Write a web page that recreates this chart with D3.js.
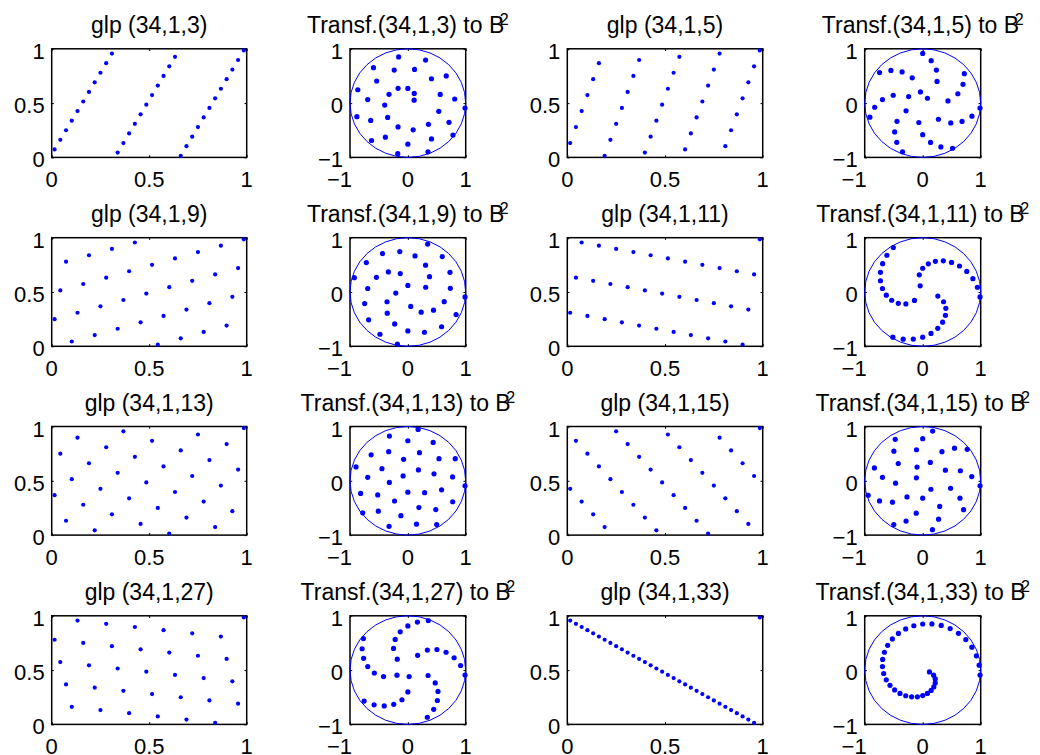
<!DOCTYPE html>
<html>
<head>
<meta charset="utf-8">
<script src="https://cdn.jsdelivr.net/npm/d3@7/dist/d3.min.js"></script>
<style>
  html, body { margin: 0; padding: 0; background: #ffffff; }
  svg { display: block; }
  text { font-family: "Liberation Sans", Arial, Helvetica, sans-serif; fill: #000; }
</style>
</head>
<body>
<script>
// Good lattice point sets glp(n, 1, h) with n = 34, and their images in the unit disk B^2.
const latticeN = 34;
const genH = [3, 5, 9, 11, 13, 15, 27, 33];

// first coordinate index k (generator 1)
const rowK = [1,2,3,4,5,6,7,8,9,10,11,12,13,14,15,16,17,18,19,20,21,22,23,24,25,26,27,28,29,30,31,32,33,34];

// second coordinate index k*h mod n (0 written as n), one list per generator h
const colH3  = [3,6,9,12,15,18,21,24,27,30,33,2,5,8,11,14,17,20,23,26,29,32,1,4,7,10,13,16,19,22,25,28,31,34];
const colH5  = [5,10,15,20,25,30,1,6,11,16,21,26,31,2,7,12,17,22,27,32,3,8,13,18,23,28,33,4,9,14,19,24,29,34];
const colH9  = [9,18,27,2,11,20,29,4,13,22,31,6,15,24,33,8,17,26,1,10,19,28,3,12,21,30,5,14,23,32,7,16,25,34];
const colH11 = [11,22,33,10,21,32,9,20,31,8,19,30,7,18,29,6,17,28,5,16,27,4,15,26,3,14,25,2,13,24,1,12,23,34];
const colH13 = [13,26,5,18,31,10,23,2,15,28,7,20,33,12,25,4,17,30,9,22,1,14,27,6,19,32,11,24,3,16,29,8,21,34];
const colH15 = [15,30,11,26,7,22,3,18,33,14,29,10,25,6,21,2,17,32,13,28,9,24,5,20,1,16,31,12,27,8,23,4,19,34];
const colH27 = [27,20,13,6,33,26,19,12,5,32,25,18,11,4,31,24,17,10,3,30,23,16,9,2,29,22,15,8,1,28,21,14,7,34];
const colH33 = [33,32,31,30,29,28,27,26,25,24,23,22,21,20,19,18,17,16,15,14,13,12,11,10,9,8,7,6,5,4,3,2,1,34];
const colLists = [colH3, colH5, colH9, colH11, colH13, colH15, colH27, colH33];

// tick labels
const cubeTicks = [0, 0.5, 1];
const cubeTickLabels = ["0", "0.5", "1"];
const diskTicks = [-1, 0, 1];
const diskTickLabels = ["\u22121", "0", "1"];

const W = 1040, H = 755;
const svg = d3.select("body").append("svg").attr("width", W).attr("height", H);

// panel frame geometry (4 x 4 subplots)
const colLeft  = [51.7, 350, 567.3, 864.7];
const colWidth = [195, 115.7, 195.4, 116];
const rowTop   = [48.8, 237.7, 426.5, 615.8];
const rowHeight = 108.6;

const tickFont = 22, titleFont = 23;
const blue = "#0000ff";

// centred lattice coordinate in [0,1]
const unit = v => (v - 0.5) / latticeN;

function frame(g, x, y, ticks) {
  const [x0, x1] = x.range();
  const [y0, y1] = y.range(); // y0 bottom, y1 top
  const tl = 2.2;
  // inward ticks on all four sides
  g.append("g").attr("transform", `translate(0,${y0})`)
    .call(d3.axisBottom(x).tickValues(ticks).tickSize(-tl).tickSizeOuter(0).tickFormat(""));
  g.append("g").attr("transform", `translate(0,${y1})`)
    .call(d3.axisTop(x).tickValues(ticks).tickSize(-tl).tickSizeOuter(0).tickFormat(""));
  g.append("g").attr("transform", `translate(${x0},0)`)
    .call(d3.axisLeft(y).tickValues(ticks).tickSize(-tl).tickSizeOuter(0).tickFormat(""));
  g.append("g").attr("transform", `translate(${x1},0)`)
    .call(d3.axisRight(y).tickValues(ticks).tickSize(-tl).tickSizeOuter(0).tickFormat(""));
  g.selectAll(".domain").remove();
  g.selectAll(".tick line").attr("stroke", "#000").attr("stroke-width", 1);
  g.append("rect")
    .attr("x", x0).attr("y", y1).attr("width", x1 - x0).attr("height", y0 - y1)
    .attr("fill", "none").attr("stroke", "#000").attr("stroke-width", 1.5);
}

function tickLabels(g, x, y, ticks, labels) {
  const [x0] = x.range();
  const [y0] = y.range();
  ticks.forEach((t, i) => {
    const neg = labels[i].startsWith("\u2212");
    // x-axis labels
    g.append("text")
      .attr("x", neg ? x(t) + 2 : x(t))
      .attr("y", y0 + 30)
      .attr("text-anchor", neg ? "end" : "middle")
      .attr("font-size", tickFont)
      .text(labels[i]);
    // y-axis labels
    g.append("text")
      .attr("x", x0 - 7)
      .attr("y", y(t) + 10)
      .attr("text-anchor", "end")
      .attr("font-size", tickFont)
      .text(labels[i]);
  });
}

genH.forEach((h, idx) => {
  const r = Math.floor(idx / 2);
  const c = (idx % 2) * 2;
  const cols = colLists[idx];
  const pts = rowK.map((k, i) => [unit(k), unit(cols[i])]);

  // ---- lattice set on [0,1]^2 ----
  {
    const g = svg.append("g");
    const left = colLeft[c], top = rowTop[r];
    const x = d3.scaleLinear().domain([0, 1]).range([left, left + colWidth[c]]);
    const y = d3.scaleLinear().domain([0, 1]).range([top + rowHeight, top]);
    frame(g, x, y, cubeTicks);
    g.selectAll("circle.pt").data(pts).join("circle")
      .attr("class", "pt")
      .attr("cx", d => x(d[0])).attr("cy", d => y(d[1]))
      .attr("r", 2.1).attr("fill", blue);
    tickLabels(g, x, y, cubeTicks, cubeTickLabels);
    g.append("text")
      .attr("x", left + colWidth[c] / 2).attr("y", top - 16)
      .attr("text-anchor", "middle").attr("font-size", titleFont)
      .text(`glp (${latticeN},1,${h})`);
  }

  // ---- image in the unit disk: r = sqrt(u1), angle = 2*pi*u2 ----
  {
    const cc = c + 1;
    const g = svg.append("g");
    const left = colLeft[cc], top = rowTop[r];
    const x = d3.scaleLinear().domain([-1, 1]).range([left, left + colWidth[cc]]);
    const y = d3.scaleLinear().domain([-1, 1]).range([top + rowHeight, top]);
    frame(g, x, y, diskTicks);
    g.append("ellipse")
      .attr("cx", x(0)).attr("cy", y(0))
      .attr("rx", x(1) - x(0)).attr("ry", y(-1) - y(0))
      .attr("fill", "none").attr("stroke", blue).attr("stroke-width", 1);
    const disk = pts.map(([u1, u2]) => {
      const rad = Math.sqrt(u1), ang = 2 * Math.PI * u2;
      return [rad * Math.cos(ang), rad * Math.sin(ang)];
    });
    g.selectAll("circle.pt").data(disk).join("circle")
      .attr("class", "pt")
      .attr("cx", d => x(d[0])).attr("cy", d => y(d[1]))
      .attr("r", 2.6).attr("fill", blue);
    tickLabels(g, x, y, diskTicks, diskTickLabels);
    const t = g.append("text")
      .attr("x", left + colWidth[cc] / 2).attr("y", top - 16)
      .attr("text-anchor", "middle").attr("font-size", titleFont);
    t.append("tspan").text(`Transf.(${latticeN},1,${h}) to B`);
    t.append("tspan").attr("dx", -4.5).attr("dy", -8).attr("font-size", 16).text("2");
  }
});
</script>
</body>
</html>
